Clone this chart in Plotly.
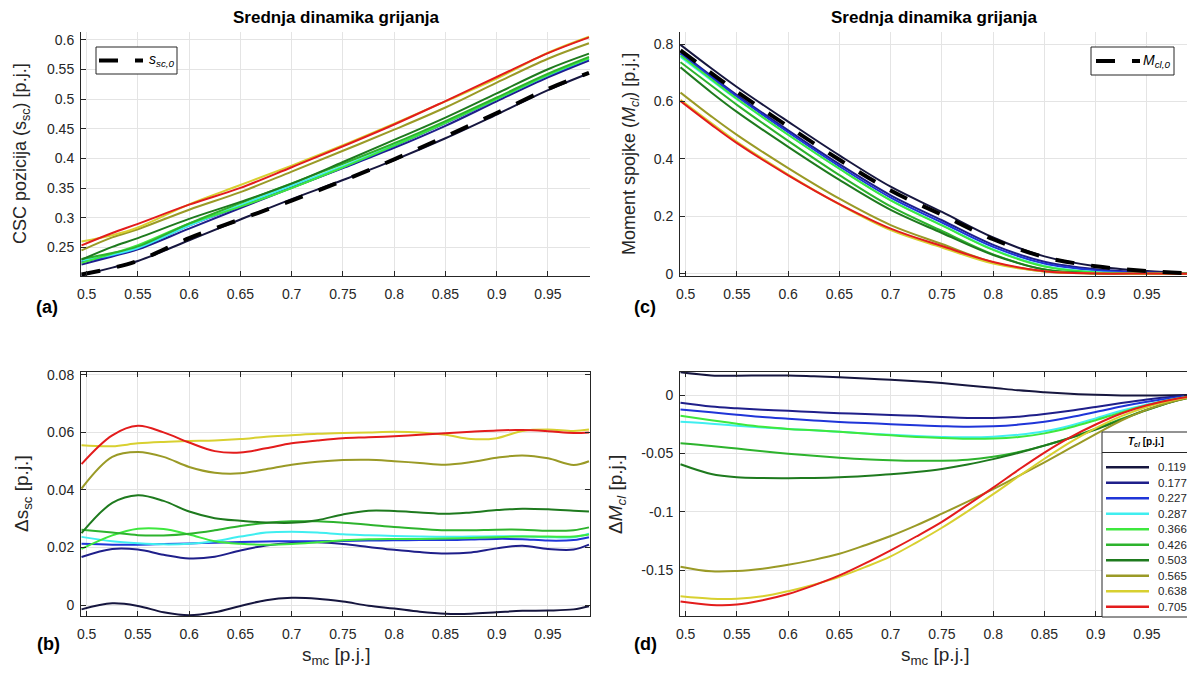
import plotly.graph_objects as go

W, H = 1195, 677          # target window
OFF = 8                   # default page body margin of the html page
WF, HF = W - OFF, H - OFF # figure size so that it fills the window

# ---------------- data ----------------
T_cl = [0.119, 0.177, 0.227, 0.287, 0.366, 0.426, 0.503, 0.565, 0.638, 0.705]

x_top = [0.495, 0.525, 0.55, 0.6, 0.65, 0.7, 0.75, 0.8, 0.85, 0.9, 0.95, 0.99]
x_bot = [0.495, 0.525, 0.55, 0.575, 0.6, 0.625, 0.65, 0.675, 0.7, 0.725, 0.75,
         0.775, 0.8, 0.825, 0.85, 0.875, 0.9, 0.925, 0.95, 0.975, 0.99]

# (a) CSC position
s_sc0 = [0.2046, 0.2155, 0.2276, 0.2657, 0.2975, 0.329, 0.3625, 0.3985, 0.437, 0.4765, 0.517, 0.544]
s_sc = [
    [0.2031, 0.2161, 0.2273, 0.2622, 0.2972, 0.3315, 0.3637, 0.3973, 0.434, 0.474, 0.5151, 0.5436],
    [0.2213, 0.235, 0.2469, 0.2819, 0.3165, 0.3506, 0.3837, 0.4177, 0.4549, 0.4962, 0.5365, 0.565],
    [0.2259, 0.2365, 0.2486, 0.2871, 0.3194, 0.3512, 0.3848, 0.421, 0.4596, 0.4995, 0.5394, 0.5676],
    [0.2283, 0.2377, 0.2491, 0.287, 0.3213, 0.3545, 0.3871, 0.4225, 0.4607, 0.5004, 0.5406, 0.5688],
    [0.2241, 0.2397, 0.2541, 0.2902, 0.3188, 0.3502, 0.385, 0.4215, 0.4601, 0.5001, 0.5408, 0.5685],
    [0.2308, 0.2407, 0.2519, 0.2905, 0.325, 0.3581, 0.3911, 0.4256, 0.463, 0.5027, 0.5428, 0.571],
    [0.2296, 0.251, 0.2658, 0.2982, 0.3268, 0.3576, 0.394, 0.4312, 0.4687, 0.5095, 0.5503, 0.5765],
    [0.2451, 0.267, 0.2808, 0.3137, 0.3433, 0.3778, 0.4129, 0.4485, 0.4858, 0.5277, 0.568, 0.594],
    [0.2601, 0.2707, 0.2838, 0.3227, 0.3552, 0.388, 0.4223, 0.4587, 0.4962, 0.5345, 0.578, 0.605],
    [0.2536, 0.2745, 0.2899, 0.3222, 0.3505, 0.3852, 0.4205, 0.4572, 0.4967, 0.5372, 0.5774, 0.604],
]

# (b) delta CSC position
ds_sc = [
    [-0.0015, 0.0006, -0.0003, -0.0025, -0.0035, -0.0025, -0.0003, 0.0017, 0.0025, 0.0022, 0.0012,
     -0.0002, -0.0012, -0.0023, -0.003, -0.003, -0.0025, -0.002, -0.0019, -0.0015, -0.0004],
    [0.0167, 0.0195, 0.0193, 0.0175, 0.0162, 0.0168, 0.019, 0.0207, 0.0216, 0.0218, 0.0212,
     0.0202, 0.0192, 0.0184, 0.0179, 0.0183, 0.0197, 0.0206, 0.0195, 0.0193, 0.021],
    [0.0213, 0.021, 0.021, 0.0212, 0.0214, 0.0217, 0.0219, 0.0221, 0.0222, 0.0222, 0.0223,
     0.0224, 0.0225, 0.0226, 0.0226, 0.0228, 0.023, 0.0229, 0.0224, 0.0226, 0.0236],
    [0.0237, 0.0222, 0.0215, 0.0211, 0.0213, 0.0222, 0.0238, 0.0252, 0.0255, 0.0252, 0.0246,
     0.0243, 0.024, 0.0238, 0.0237, 0.0238, 0.0239, 0.0239, 0.0236, 0.0236, 0.0248],
    [0.0195, 0.0242, 0.0265, 0.0264, 0.0245, 0.0222, 0.0213, 0.021, 0.0212, 0.0218, 0.0225,
     0.0229, 0.023, 0.023, 0.0231, 0.0233, 0.0236, 0.0238, 0.0238, 0.0238, 0.0245],
    [0.0262, 0.0252, 0.0243, 0.0242, 0.0248, 0.026, 0.0275, 0.0285, 0.0291, 0.0291, 0.0286,
     0.0279, 0.0271, 0.0265, 0.026, 0.026, 0.0262, 0.0262, 0.0258, 0.026, 0.027],
    [0.025, 0.0355, 0.0382, 0.0362, 0.0325, 0.0302, 0.0293, 0.0287, 0.0286, 0.0295, 0.0315,
     0.0328, 0.0327, 0.0322, 0.0317, 0.0322, 0.033, 0.0335, 0.0333, 0.0328, 0.0325],
    [0.0405, 0.0515, 0.0532, 0.0515, 0.048, 0.046, 0.0458, 0.0472, 0.0488, 0.0498, 0.0504,
     0.0505, 0.05, 0.0494, 0.0488, 0.0497, 0.0512, 0.052, 0.051, 0.0487, 0.05],
    [0.0555, 0.0552, 0.0562, 0.0567, 0.057, 0.0572, 0.0577, 0.0585, 0.059, 0.0595, 0.0598,
     0.06, 0.0602, 0.06, 0.0592, 0.0577, 0.058, 0.0605, 0.061, 0.0605, 0.061],
    [0.049, 0.059, 0.0623, 0.06, 0.0565, 0.0535, 0.053, 0.0545, 0.0562, 0.0572, 0.058,
     0.0583, 0.0587, 0.0592, 0.0597, 0.0602, 0.0607, 0.0608, 0.0604, 0.0598, 0.06],
]

# (c) clutch torque
M_cl0 = [0.778, 0.699, 0.634, 0.513, 0.397, 0.29, 0.205, 0.12, 0.058, 0.026, 0.0095, 0.0015]
M_cl = [
    [0.7975, 0.7158, 0.6505, 0.5297, 0.4122, 0.303, 0.2152, 0.1262, 0.0604, 0.0262, 0.0091, 0.0015],
    [0.7714, 0.6892, 0.6227, 0.4995, 0.3815, 0.273, 0.1862, 0.1004, 0.0417, 0.0158, 0.0057, 0.001],
    [0.7657, 0.6842, 0.6172, 0.4927, 0.374, 0.2651, 0.1784, 0.0933, 0.0352, 0.0115, 0.0037, 0.0005],
    [0.7551, 0.6745, 0.6078, 0.484, 0.3655, 0.256, 0.1692, 0.0843, 0.027, 0.006, 0.0015, 0.0],
    [0.7602, 0.6775, 0.6095, 0.484, 0.3655, 0.2555, 0.1682, 0.0828, 0.0252, 0.0045, 0.0007, 0.0],
    [0.7368, 0.6555, 0.5882, 0.4628, 0.3434, 0.2343, 0.1488, 0.0672, 0.0147, 0.001, 0.0, 0.0],
    [0.7188, 0.6315, 0.5637, 0.4419, 0.3267, 0.2222, 0.1418, 0.0652, 0.0148, 0.001, 0.0, 0.0],
    [0.6312, 0.5482, 0.4835, 0.3678, 0.2612, 0.1694, 0.1035, 0.0395, 0.008, 0.001, 0.0, 0.0],
    [0.6058, 0.5248, 0.4598, 0.3452, 0.2415, 0.152, 0.0915, 0.0352, 0.008, 0.001, 0.0, 0.0],
    [0.6014, 0.5195, 0.4548, 0.3428, 0.2427, 0.1572, 0.0965, 0.0408, 0.0088, 0.0008, 0.0007, 0.0],
]

# (d) delta clutch torque
dM_cl = [
    [0.0195, 0.0168, 0.0165, 0.0167, 0.0167, 0.016, 0.0152, 0.0142, 0.013, 0.0118, 0.0102,
     0.0082, 0.0062, 0.004, 0.0024, 0.0011, 0.0002, -0.0003, -0.0004, -0.0002, 0.0],
    [-0.0066, -0.0098, -0.0113, -0.0125, -0.0135, -0.0145, -0.0155, -0.0163, -0.017, -0.0178, -0.0188,
     -0.0196, -0.0196, -0.0185, -0.0163, -0.0135, -0.0102, -0.0068, -0.0038, -0.0015, -0.0005],
    [-0.0123, -0.0148, -0.0168, -0.0188, -0.0203, -0.0217, -0.023, -0.024, -0.0249, -0.0258, -0.0266,
     -0.0271, -0.0267, -0.0253, -0.0228, -0.019, -0.0145, -0.0098, -0.0058, -0.0025, -0.001],
    [-0.0229, -0.0245, -0.0262, -0.0278, -0.029, -0.0302, -0.0315, -0.0328, -0.034, -0.035, -0.0358,
     -0.0362, -0.0357, -0.034, -0.031, -0.0262, -0.02, -0.0135, -0.008, -0.0035, -0.0015],
    [-0.0178, -0.0215, -0.0245, -0.0272, -0.029, -0.0302, -0.0315, -0.033, -0.0345, -0.0358, -0.0368,
     -0.0374, -0.0372, -0.0358, -0.0328, -0.0278, -0.0215, -0.0148, -0.0088, -0.0038, -0.0015],
    [-0.0412, -0.0435, -0.0458, -0.048, -0.0502, -0.052, -0.0536, -0.0549, -0.0557, -0.0562, -0.0562,
     -0.0553, -0.0528, -0.0488, -0.0433, -0.0365, -0.0288, -0.0205, -0.0125, -0.0055, -0.0022],
    [-0.0592, -0.0675, -0.0703, -0.071, -0.0711, -0.0709, -0.0703, -0.0692, -0.0678, -0.0658, -0.0632,
     -0.0595, -0.0548, -0.0493, -0.0432, -0.0368, -0.0295, -0.021, -0.0128, -0.0057, -0.0025],
    [-0.1468, -0.1508, -0.1505, -0.1485, -0.1452, -0.141, -0.1358, -0.1285, -0.1206, -0.1115, -0.1015,
     -0.0912, -0.0805, -0.0692, -0.0575, -0.0455, -0.0335, -0.0218, -0.0125, -0.0055, -0.0025],
    [-0.1722, -0.1742, -0.1742, -0.1722, -0.1678, -0.1622, -0.1555, -0.1472, -0.138, -0.1262, -0.1135,
     -0.0995, -0.0848, -0.0695, -0.0545, -0.0405, -0.0283, -0.018, -0.0102, -0.0045, -0.002],
    [-0.1766, -0.1795, -0.1792, -0.1755, -0.1702, -0.1628, -0.1543, -0.144, -0.1328, -0.121, -0.1085,
     -0.094, -0.0792, -0.0638, -0.0492, -0.0362, -0.0252, -0.0158, -0.0088, -0.0038, -0.0015],
]

x_ticks = [0.5, 0.55, 0.6, 0.65, 0.7, 0.75, 0.8, 0.85, 0.9, 0.95]
a_ticks = [0.25, 0.3, 0.35, 0.4, 0.45, 0.5, 0.55, 0.6]
b_ticks = [0, 0.02, 0.04, 0.06, 0.08]
c_ticks = [0, 0.2, 0.4, 0.6, 0.8]
d_ticks = [-0.15, -0.1, -0.05, 0]

# ---------------- styles ----------------
colors = ['#16163f', '#1f1f8a', '#1f35d8', '#40eef0', '#3ee83e',
          '#2db32d', '#1e7a1e', '#9a9a26', '#d8d030', '#e31c1c']
FONT = 'Liberation Sans, Arial, Helvetica, sans-serif'
AX = '#262626'


def px(x):
    return (x - OFF) / WF


def py(y):
    return 1 - (y - OFF) / HF


def lab(v):
    return f"{v:g}"


fig = go.Figure()

panels = [('x', 'y', x_top, s_sc), ('x2', 'y2', x_bot, ds_sc),
          ('x3', 'y3', x_top, M_cl), ('x4', 'y4', x_bot, dM_cl)]
for xa, ya, xs, series in panels:
    for t, c, ys in zip(T_cl, colors, series):
        fig.add_trace(go.Scatter(x=xs, y=ys, mode='lines', name=f"{t:.3f}",
                                 line=dict(color=c, width=2, shape='spline', smoothing=1.0),
                                 xaxis=xa, yaxis=ya, showlegend=False, hoverinfo='skip'))

for ya, xa, ys in [('y', 'x', s_sc0), ('y3', 'x3', M_cl0)]:
    fig.add_trace(go.Scatter(x=x_top, y=ys, mode='lines',
                             line=dict(color='black', width=4, dash='19px,17px',
                                       shape='spline', smoothing=1.0),
                             xaxis=xa, yaxis=ya, showlegend=False, hoverinfo='skip'))

XR = [0.4945, 0.991]
L1, R1, L2, R2 = 81, 590, 680, 1189
T1, B1, T2, B2 = 32, 276, 372, 616


def xaxis(l, r, anchor, box):
    return dict(domain=[px(l), px(r)], range=XR, anchor=anchor,
                tickvals=x_ticks, ticktext=[lab(v) for v in x_ticks],
                showgrid=True, gridcolor='#e4e4e4', gridwidth=1, zeroline=False,
                showline=True, linecolor=AX, linewidth=1,
                mirror='allticks' if box else False,
                ticks='inside', ticklen=5, tickcolor=AX, tickwidth=1,
                tickfont=dict(family=FONT, size=14, color=AX), ticklabelstandoff=5)


def yaxis(t, b, anchor, rng, tv, box):
    return dict(domain=[py(b), py(t)], range=rng, anchor=anchor,
                tickvals=tv, ticktext=[lab(v) for v in tv],
                showgrid=True, gridcolor='#e4e4e4', gridwidth=1, zeroline=False,
                showline=True, linecolor=AX, linewidth=1,
                mirror='allticks' if box else False,
                ticks='inside', ticklen=5, tickcolor=AX, tickwidth=1,
                tickfont=dict(family=FONT, size=14, color=AX), ticklabelstandoff=3)


ann = []


def text(x, y, s, size, angle=0, xanchor='center', color=AX):
    ann.append(dict(x=px(x), y=py(y), xref='paper', yref='paper', text=s, showarrow=False,
                    textangle=angle, xanchor=xanchor, yanchor='middle',
                    font=dict(family=FONT, size=size, color=color)))


text(336, 17, '<b>Srednja dinamika grijanja</b>', 17, color='#000000')
text(934.5, 17, '<b>Srednja dinamika grijanja</b>', 17, color='#000000')
text(21, 154, 'CSC pozicija (s<sub>sc</sub>) [p.j.]', 18, angle=-90)
text(630, 154, 'Moment spojke (<i>M</i><sub><i>cl</i></sub>) [p.j.]', 18, angle=-90)
text(23, 494, 'Δs<sub>sc</sub> [p.j.]', 19, angle=-90)
text(617, 494, 'Δ<i>M</i><sub><i>cl</i></sub> [p.j.]', 19, angle=-90)
text(336, 656, 's<sub>mc</sub> [p.j.]', 19)
text(934.5, 656, 's<sub>mc</sub> [p.j.]', 19)
text(47, 307, '<b>(a)</b>', 18, color='#000000')
text(48, 644, '<b>(b)</b>', 18, color='#000000')
text(645, 307, '<b>(c)</b>', 18, color='#000000')
text(645, 644, '<b>(d)</b>', 18, color='#000000')

shapes = []


def rect(x0, y0, x1, y1):
    shapes.append(dict(type='rect', xref='paper', yref='paper', layer='above',
                       x0=px(x0), x1=px(x1), y0=py(y1), y1=py(y0),
                       fillcolor='white', line=dict(color=AX, width=1)))


def hline(x0, x1, y, color, width, dash='solid'):
    shapes.append(dict(type='line', xref='paper', yref='paper', layer='above',
                       x0=px(x0), x1=px(x1), y0=py(y), y1=py(y),
                       line=dict(color=color, width=width, dash=dash)))


# legend (a)
rect(96, 47, 177, 74)
hline(99, 143, 60.5, 'black', 4, '19px,17px')
text(147, 60, '<i>s</i><sub><i>sc,0</i></sub>', 14, xanchor='left', color='#000000')
# legend (c)
rect(1091, 47, 1174, 75)
hline(1096, 1140, 61, 'black', 4, '19px,17px')
text(1141, 60.5, '<i>M</i><sub><i>cl,0</i></sub>', 14, xanchor='left', color='#000000')
# legend (d)
rect(1102, 432, 1189, 617)
hline(1102, 1189, 452.5, AX, 1)
text(1146, 442, '<b><i>T</i></b><sub><b><i>cl</i></b></sub><b> [p.j.]</b>', 10, color='#000000')
for i, (t, c) in enumerate(zip(T_cl, colors)):
    yy = 467.3 + i * 15.5
    hline(1106, 1149, yy, c, 2.5)
    text(1156, yy, f"{t:.3f}", 11.5, xanchor='left')

fig.update_layout(
    width=WF, height=HF, template='none',
    margin=dict(l=0, r=0, t=0, b=0),
    paper_bgcolor='white', plot_bgcolor='white', showlegend=False,
    font=dict(family=FONT, color=AX),
    xaxis=xaxis(L1, R1, 'y', False),
    yaxis=yaxis(T1, B1, 'x', [0.202, 0.613], a_ticks, False),
    xaxis2=xaxis(L1, R1, 'y2', True),
    yaxis2=yaxis(T2, B2, 'x2', [-0.0038, 0.081], b_ticks, True),
    xaxis3=xaxis(L2, R2, 'y3', False),
    yaxis3=yaxis(T1, B1, 'x3', [-0.008, 0.842], c_ticks, False),
    xaxis4=xaxis(L2, R2, 'y4', True),
    yaxis4=yaxis(T2, B2, 'x4', [-0.189, 0.0197], d_ticks, True),
    annotations=ann, shapes=shapes,
)

fig.write_html("out.html")
